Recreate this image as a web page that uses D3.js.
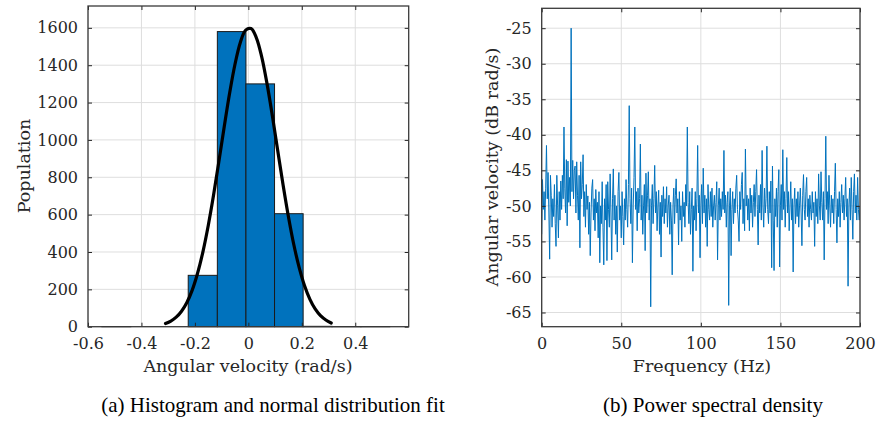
<!DOCTYPE html>
<html><head><meta charset="utf-8">
<script src="https://cdn.jsdelivr.net/npm/d3@7"></script>
<style>
html,body{margin:0;padding:0;background:#fff;}
svg{display:block;}
</style></head>
<body>
<svg id="chart" width="877" height="424"></svg>
<script>
// ---------- Histogram data ----------
const binEdges = [-0.548, -0.440, -0.333, -0.225, -0.116, -0.009, 0.098, 0.205, 0.313, 0.421, 0.529];
const binCounts = [1, 0, 0, 275, 1580, 1300, 605, 2, 1, 1];
const histXTicks = [-0.6, -0.4, -0.2, 0, 0.2, 0.4];
const histYTicks = [0, 200, 400, 600, 800, 1000, 1200, 1400, 1600];
// normal fit curve
const fitX = [-0.31,-0.29,-0.27,-0.25,-0.23,-0.21,-0.19,-0.17,-0.15,-0.13,-0.11,-0.09,-0.07,-0.05,-0.03,-0.01,0.01,0.03,0.05,0.07,0.09,0.11,0.13,0.15,0.17,0.19,0.21,0.23,0.25,0.27,0.29,0.31];
const fitY = [17,30,51,83,130,196,286,401,542,706,887,1073,1251,1405,1522,1588,1596,1547,1445,1300,1128,942,759,589,440,318,221,148,95,59,36,20];

// ---------- PSD data (dB), 0.5 Hz resolution, 0..200 Hz ----------
const psdStep = 0.5;
const psdDb = [
 -54,-46.3,-50.5,-48,-52,-47.5,-41.5,-49,-45.3,-51,-57.5,-45.7,-48.5,-53,-49,-51.5,-47,-52.5,-55.7,-45.7,
 -50,-54.5,-48,-52,-46.5,-50.5,-45.7,-49,-38.9,-47.5,-51,-43.5,-52.8,-43.7,-49.5,-46,-50,-25,-48,-43.6,
 -49,-45,-44.4,-51,-43.8,-48.5,-52,-45.7,-55.9,-43.8,-49,-47,-42.8,-51.5,-48,-53,-47,-50.5,-48.6,-54,
 -49.5,-57,-51,-47.5,-46.3,-52,-49,-53.5,-47.7,-51,-49.5,-54.5,-48,-58,-50,-52.5,-46.6,-53,-58.3,-49,
 -52,-47,-57.7,-46.6,-50.5,-53,-45.5,-51,-57.6,-49,-44.8,-52,-48.5,-54,-50,-56.5,-48,-45.3,-52,-50,
 -54.5,-48,-51.5,-55.5,-49,-52,-46.3,-50.5,-53,-47,-35.9,-49,-52.5,-47.5,-58,-50,-46,-38.9,-50.5,-48,
 -53.5,-47.5,-51,-49,-41.3,-52,-48.5,-54,-50,-47,-56.3,-45.4,-51,-48.5,-45.2,-52,-49,-64.2,-50,-47,
 -52.5,-49,-44.3,-51,-48,-53.5,-50,-47.8,-54,-49.5,-57.2,-48.5,-51.5,-47.3,-52.5,-49,-51,-47.3,-53,-50,
 -48.5,-54,-49.5,-52,-59.7,-50,-47.5,-52.5,-48.5,-46.2,-51,-49,-55.5,-48,-52,-50,-55,-48,-51.5,-49.5,
 -53,-47,-50,-38.9,-49.5,-52.5,-48,-54,-50.5,-47.5,-59.2,-50,-52,-48,-53.5,-49,-41.5,-51,-48.5,-57.3,
 -50,-47,-52.5,-44.7,-51,-48.5,-53,-49,-55.7,-47,-50.5,-52,-48,-51.5,-47.5,-53,-50,-48.5,-52,-49.5,
 -46.6,-57.6,-50,-47.5,-52,-49,-51.5,-48,-50.5,-42.2,-51,-48.5,-53,-49.5,-48,-64,-50,-47.5,-57,-50.5,
 -48,-52.5,-49,-51,-47.5,-45.7,-50.5,-52,-55,-48,-50.5,-47,-45.3,-52.5,-49,-53.5,-42,-50,-48.5,-52,
 -49,-53.5,-47.5,-51,-48.5,-53,-49.5,-47,-51.5,-48,-44.9,-50.5,-55.5,-48.5,-51,-47,-52,-42.2,-50,-53,
 -47.5,-51,-49,-41.6,-50.5,-52.5,-48,-51,-46.5,-58.7,-44.4,-52,-59.1,-49,-51.5,-47.5,-53,-48,-44.9,-58.6,
 -50,-47,-52,-42.1,-50.5,-48,-53,-49,-43.2,-51,-48,-53.5,-50,-46.6,-52,-49,-59.3,-50,-47.5,-52.5,
 -49,-51.5,-48,-53,-50,-47.5,-51,-55.6,-48.5,-45.6,-50.5,-52,-48,-46,-51.5,-49,-53,-48.5,-50.5,-52,
 -48,-51,-49.5,-55.7,-48,-51.5,-49,-52.5,-45.5,-50,-52,-45.2,-49.5,-52,-48,-57.6,-49,-40.2,-50.5,-48,
 -52.5,-45.7,-50,-53,-48.5,-51,-49,-52.5,-48,-44,-50.5,-55.2,-49,-51.5,-48,-53,-49.5,-47,-51,-48.5,
 -52,-49,-46,-51.5,-49,-61.3,-50,-47.5,-52,-46,-50.5,-54.7,-48,-45.5,-51,-48.5,-52,-46,-50.5,-52,
 -50.1
];
const psdXTicks = [0, 50, 100, 150, 200];
const psdYTicks = [-65, -60, -55, -50, -45, -40, -35, -30, -25];

// ---------- common ----------
const svg = d3.select("#chart");
const axisColor = "#262626";
const gridColor = "#dedede";
const tickFont = "'DejaVu Serif', serif";
const fmt = d => (d === 0 ? "0" : String(d));

function drawFrame(g, x, y, xTicks, yTicks) {
  const [x0, x1] = x.range();
  const [y0, y1] = y.range(); // y0 bottom, y1 top
  g.append("g").selectAll("line").data(xTicks).join("line")
    .attr("x1", d => x(d)).attr("x2", d => x(d)).attr("y1", y1).attr("y2", y0)
    .attr("stroke", gridColor).attr("stroke-width", 1);
  g.append("g").selectAll("line").data(yTicks).join("line")
    .attr("x1", x0).attr("x2", x1).attr("y1", d => y(d)).attr("y2", d => y(d))
    .attr("stroke", gridColor).attr("stroke-width", 1);
}

function drawAxes(g, x, y, xTicks, yTicks) {
  const [x0, x1] = x.range();
  const [y0, y1] = y.range();
  const ax = [];
  ax.push(g.append("g").attr("transform", `translate(0,${y0})`)
    .call(d3.axisBottom(x).tickValues(xTicks).tickFormat(fmt).tickSizeInner(-4).tickSizeOuter(0).tickPadding(11)));
  ax.push(g.append("g").attr("transform", `translate(${x0},0)`)
    .call(d3.axisLeft(y).tickValues(yTicks).tickFormat(fmt).tickSizeInner(-4).tickSizeOuter(0).tickPadding(10)));
  ax.push(g.append("g").attr("transform", `translate(0,${y1})`)
    .call(d3.axisTop(x).tickValues(xTicks).tickFormat("").tickSizeInner(-4).tickSizeOuter(0)));
  ax.push(g.append("g").attr("transform", `translate(${x1},0)`)
    .call(d3.axisRight(y).tickValues(yTicks).tickFormat("").tickSizeInner(-4).tickSizeOuter(0)));
  ax.forEach(a => {
    a.select(".domain").remove();
    a.selectAll(".tick line").attr("stroke", axisColor).attr("stroke-width", 1);
    a.selectAll(".tick text").attr("fill", axisColor)
      .style("font-family", tickFont).style("font-size", "16px");
  });
  g.append("rect").attr("x", x0).attr("y", y1).attr("width", x1 - x0).attr("height", y0 - y1)
    .attr("fill", "none").attr("stroke", "#3a3a3a").attr("stroke-width", 1.3);
}

// ---------- Left: histogram ----------
{
  const x = d3.scaleLinear().domain([-0.6, 0.6]).range([88, 408.7]);
  const y = d3.scaleLinear().domain([0, 1717]).range([326.7, 6]);
  const g = svg.append("g");
  drawFrame(g, x, y, histXTicks, histYTicks);
  const bins = binCounts.map((c, i) => ({ x0: binEdges[i], x1: binEdges[i + 1], c }));
  g.append("g").selectAll("rect").data(bins).join("rect")
    .attr("x", d => x(d.x0)).attr("width", d => x(d.x1) - x(d.x0))
    .attr("y", d => y(d.c)).attr("height", d => y(0) - y(d.c))
    .attr("fill", "#0072BD").attr("stroke", "#1a1a1a").attr("stroke-width", 1);
  const fit = fitX.map((v, i) => [v, fitY[i]]);
  g.append("path").datum(fit)
    .attr("d", d3.line().x(d => x(d[0])).y(d => y(d[1])).curve(d3.curveCatmullRom))
    .attr("fill", "none").attr("stroke", "#000").attr("stroke-width", 3.2).attr("stroke-linecap", "round");
  drawAxes(g, x, y, histXTicks, histYTicks);
  g.append("text").attr("x", 248).attr("y", 372).attr("text-anchor", "middle")
    .attr("fill", axisColor).style("font-family", tickFont).style("font-size", "17.5px")
    .text("Angular velocity (rad/s)");
  g.append("text").attr("transform", "translate(30,166) rotate(-90)").attr("text-anchor", "middle")
    .attr("fill", axisColor).style("font-family", tickFont).style("font-size", "17.5px")
    .text("Population");
  g.append("text").attr("x", 273).attr("y", 412).attr("text-anchor", "middle")
    .attr("fill", "#000").style("font-family", "'Liberation Serif', 'Times New Roman', serif").style("font-size", "21px")
    .text("(a) Histogram and normal distribution fit");
}

// ---------- Right: PSD ----------
{
  const x = d3.scaleLinear().domain([0, 200]).range([541.7, 860]);
  const y = d3.scaleLinear().domain([-67, -22.2]).range([326.7, 8.3]);
  const g = svg.append("g");
  drawFrame(g, x, y, psdXTicks, psdYTicks);
  svg.append("defs").append("clipPath").attr("id", "psdclip").append("rect")
    .attr("x", 541.7).attr("y", 8.3).attr("width", 860 - 541.7).attr("height", 326.7 - 8.3);
  g.append("path").datum(psdDb)
    .attr("clip-path", "url(#psdclip)")
    .attr("d", d3.line().x((d, i) => x(i * psdStep)).y(d => y(d)))
    .attr("fill", "none").attr("stroke", "#0072BD").attr("stroke-width", 1).attr("stroke-linejoin", "round");
  drawAxes(g, x, y, psdXTicks, psdYTicks);
  g.append("text").attr("x", 702).attr("y", 372).attr("text-anchor", "middle")
    .attr("fill", axisColor).style("font-family", tickFont).style("font-size", "17.5px")
    .text("Frequency (Hz)");
  g.append("text").attr("transform", "translate(498,167) rotate(-90)").attr("text-anchor", "middle")
    .attr("fill", axisColor).style("font-family", tickFont).style("font-size", "17.5px")
    .text("Angular velocity (dB rad/s)");
  g.append("text").attr("x", 713).attr("y", 412).attr("text-anchor", "middle")
    .attr("fill", "#000").style("font-family", "'Liberation Serif', 'Times New Roman', serif").style("font-size", "21px")
    .text("(b) Power spectral density");
}
</script>
</body></html>
